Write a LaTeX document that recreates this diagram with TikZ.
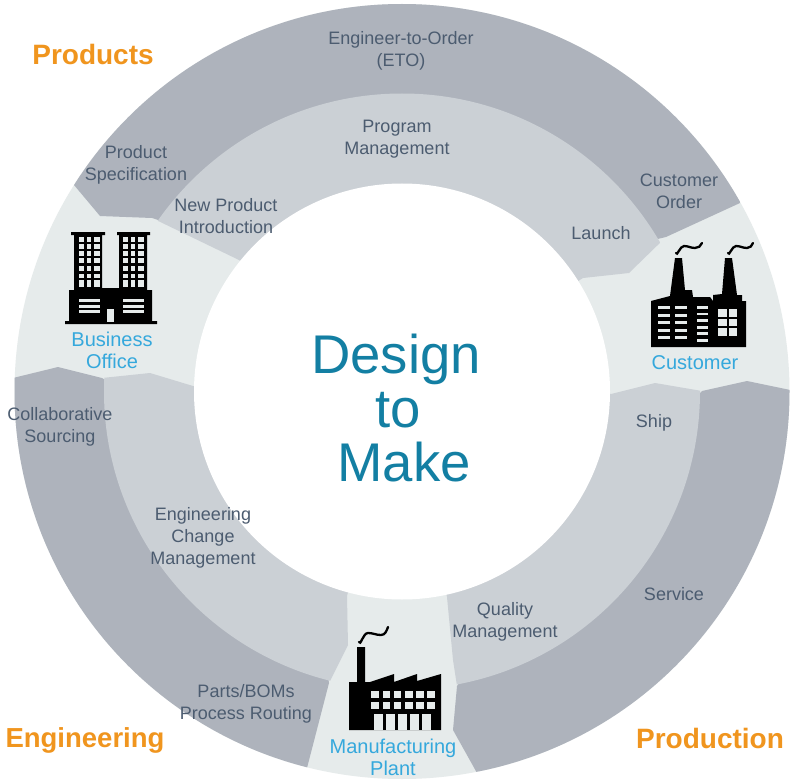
\documentclass[tikz,border=0pt]{standalone}
\usepackage{fontspec}
\setmainfont{Liberation Sans}
\definecolor{bandDark}{HTML}{AEB3BC}
\definecolor{bandMid}{HTML}{CBD0D5}
\definecolor{bandLight}{HTML}{E6EBEB}
\definecolor{labelGray}{HTML}{4C5C70}
\definecolor{siteBlue}{HTML}{35A8DC}
\definecolor{titleBlue}{HTML}{137FA3}
\definecolor{cornerOrange}{HTML}{F0951E}
\tikzset{
	steptext/.style={text=labelGray, align=center, font=\fontsize{18}{22}\selectfont},
	sitetext/.style={text=siteBlue, align=center, font=\fontsize{20}{22}\selectfont},
	cornertext/.style={text=cornerOrange, font=\fontsize{28}{32}\selectfont\bfseries},
	titletext/.style={text=titleBlue, align=center, font=\fontsize{54.5}{54}\selectfont},
	smoke/.style={draw=black, line width=2.3pt, line cap=round}
}
\begin{document}
\begin{tikzpicture}[x=1pt,y=-1pt]
		\useasboundingbox (0,0) rectangle (793,781);
		\fill [white] (0,0) rectangle (793,781);
		%Ring
		\coordinate (centre) at (402,391.5);
		\fill [bandLight] (centre) circle (387.5);
		\begin{scope}
			\clip (centre) circle (387.5);
			%Outer band
			\fill [bandDark] (74,185) -- (100,216) -- (152,218) -- (400,300) -- (666,237) -- (740,203) -- (800,-50) -- (0,-50) -- cycle;
			\fill [bandDark] (13,378) -- (58,367) -- (102,378) -- (300,500) -- (329,683) -- (307,768) -- (200,800) -- (-20,800) -- cycle;
			\fill [bandDark] (702,391) -- (747,381) -- (800,392) -- (800,800) -- (477,790) -- (477,773) -- (453,730) -- (457,686) -- (600,500) -- cycle;
		\end{scope}
		\begin{scope}
			\clip (centre) circle (298);
			%Inner band
			\fill [bandMid] (152,218) -- (239,260) -- (402,392) -- (583,278) -- (629,273) -- (666,237) -- (700,0) -- (100,0) -- cycle;
			\fill [bandMid] (102,378) -- (150,373) -- (193,386) -- (402,392) -- (347,596) -- (348,645) -- (329,683) -- (100,750) -- (50,500) -- cycle;
			\fill [bandMid] (611,394) -- (655,383) -- (702,391) -- (760,600) -- (457,686) -- (453,660) -- (447,597) -- (402,392) -- cycle;
		\end{scope}
		\fill [white] (centre) circle (208);
		%Business office
		\fill [black] (65,321) -- (69,321) -- (69,290) -- (74,290) -- (74,235) -- (71,235) -- (71,232) -- (105,232) -- (105,235) -- (102,235) -- (102,288) -- (119,288) -- (119,235) -- (117,235) -- (117,232) -- (150,232) -- (150,235) -- (147,235) -- (147,290) -- (152,290) -- (152,321) -- (157,321) -- (157,324) -- (65,324) -- cycle;
		\foreach \tx/\tw in {79/5,87/4,94/6,123/5,131/4,138/6}
			\foreach \ty/\th in {237/5,244/5,251/5,258/5,266/5,274/4,280/7}
				\fill [bandLight] (\tx,\ty) rectangle +(\tw,\th);
		\foreach \tx in {79,123}
			\foreach \ty in {299,304.5,310}
				\fill [bandLight] (\tx,\ty) rectangle +(21,3);
		\fill [bandLight] (107,309) rectangle (114,322);
		%Customer factory
		\fill [black] (651,301) -- (670,296) -- (675,258) -- (682,258) -- (685,290) -- (692,290) -- (693,297) -- (710,297) -- (713,301) -- (713,295) -- (722,294) -- (725,258) -- (732,258) -- (737,295) -- (742,295) -- (742,301) -- (746,301) -- (746,347) -- (651,347) -- cycle;
		\foreach \ty in {306,314,321,328.5,336} {
			\fill [bandLight] (658,\ty) rectangle +(12,3);
			\fill [bandLight] (675,\ty) rectangle +(12,3);
		}
		\foreach \ty in {306,312.5,319,326,332,339}
			\fill [bandLight] (697,\ty) rectangle +(11,2.8);
		\foreach \tx/\tw in {718/9,729/8}
			\foreach \ty/\th in {309/8,319/7,328/8}
				\fill [bandLight] (\tx,\ty) rectangle +(\tw,\th);
		\draw [smoke] (676,253) to[out=-75,in=180] (684,246) to[out=0,in=180] (695,248) to[out=0,in=250] (702,243);
		\draw [smoke] (728,253) to[out=-75,in=180] (736,246) to[out=0,in=180] (747,248) to[out=0,in=250] (753,243);
		%Manufacturing plant
		\fill [black] (349,730) -- (349,682) -- (357,682) -- (357,647) -- (365,647) -- (365,682) -- (370,682) -- (394,674) -- (394,682) -- (417,674) -- (417,681) -- (441,674) -- (441,730) -- cycle;
		\foreach \tx in {371,382.5,393.5,405,416,427}
			\foreach \ty in {691,702}
				\fill [bandLight] (\tx,\ty) rectangle +(7.5,6.5);
		\foreach \tx in {374,386,398,410,422}
			\fill [bandLight] (\tx,714) rectangle +(8.5,16);
		\draw [smoke] (359,642) to[out=-75,in=180] (368,633) to[out=0,in=180] (381,635) to[out=0,in=250] (388,627);
		%Labels
		\node [titletext] (title) at (396,408) {Design\\\hspace*{4pt}to\\\hspace*{16pt}Make};
		\node [cornertext] (products) at (93,54) {Products};
		\node [cornertext, font=\fontsize{27.5}{32}\selectfont\bfseries] (engineering) at (85,740) {Engineering};
		\node [cornertext] (production) at (710,738) {Production};
		\node [sitetext] (office) at (112,350) {Business\\Office};
		\node [sitetext] (customer) at (695,363) {Customer};
		\node [sitetext] (plant) at (393,757) {Manufacturing\\Plant};
		\node [steptext] (eto) at (401,50.5) {Engineer-to-Order\\(ETO)};
		\node [steptext] (program) at (397,139) {Program\\Management};
		\node [steptext] (spec) at (136,165) {Product\\Specification};
		\node [steptext] (intro) at (226,216) {New Product\\Introduction};
		\node [steptext] (order) at (679,191) {Customer\\Order};
		\node [steptext] (launch) at (601,233) {Launch};
		\node [steptext] (sourcing) at (60,427) {Collaborative\\Sourcing};
		\node [steptext] (change) at (203,538) {Engineering\\Change\\Management};
		\node [steptext] (routing) at (246,704) {Parts/BOMs\\Process Routing};
		\node [steptext] (ship) at (654,423) {Ship};
		\node [steptext] (service) at (674,594) {Service};
		\node [steptext] (quality) at (505,622) {Quality\\Management};
	\end{tikzpicture}
\end{document}
